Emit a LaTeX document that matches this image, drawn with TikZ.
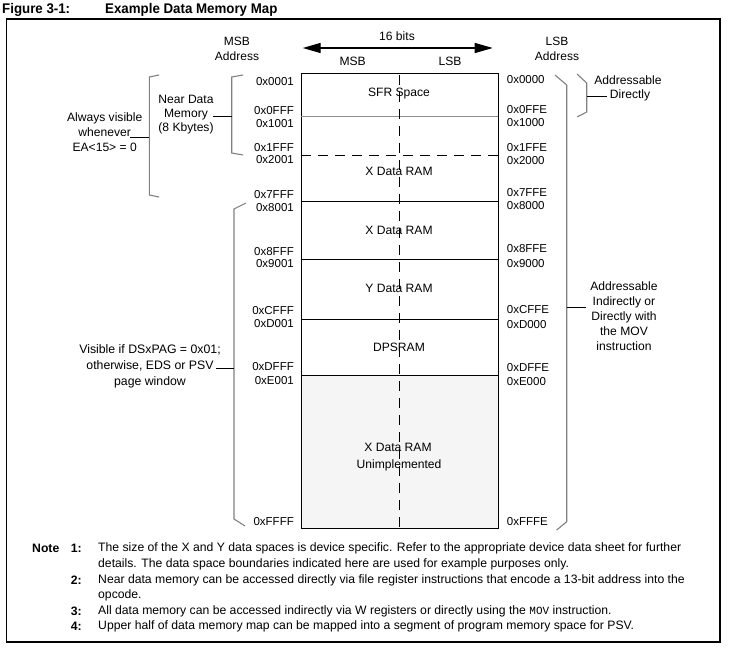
\documentclass[tikz,border=0pt]{standalone}
\usepackage{fontspec}
\setmainfont{Liberation Sans}
\setmonofont{Liberation Mono}
\usetikzlibrary{arrows.meta}
\newcommand{\lab}{\fontsize{11.5}{14}\selectfont}
\newcommand{\txt}{\fontsize{12.1}{14}\selectfont}
\begin{document}
\begin{tikzpicture}[x=1pt,y=-1pt,
  lbl/.style={inner sep=0pt, font=\lab},
  tlbl/.style={inner sep=0pt, font=\txt},
  laddr/.style={lbl, anchor=east},
  raddr/.style={lbl, anchor=west},
  brk/.style={draw=black!50, line width=1.1pt},
  conn/.style={draw=black, line width=0.9pt},
  memline/.style={draw=black, line width=1pt},
  multi/.style={inner sep=0pt, align=center},
  dashline/.style={draw=black, line width=1pt, dash pattern=on 10pt off 7pt},
  notetxt/.style={anchor=west, inner sep=0pt, font=\fontsize{12.2}{14}\selectfont},
  notenum/.style={anchor=east, inner sep=0pt, font=\fontsize{12.2}{14}\selectfont\bfseries}
]
\useasboundingbox (0,0) rectangle (729,650);
% title
\node[anchor=west, inner sep=0pt, font=\fontsize{14}{16}\selectfont\bfseries] (fig) at (2,9.5) {\scalebox{0.95}[1]{Figure 3-1:}};
\node[anchor=west, inner sep=0pt, font=\fontsize{14}{16}\selectfont\bfseries] (ttl) at (105,9.5) {\scalebox{0.95}[1]{Example Data Memory Map}};
% frame
\draw[line width=1.3pt] (6.5,19) rectangle (720,642);

% header
\node[multi, font=\fontsize{12}{15}\selectfont] (msba) at (237,48.5) {MSB\\Address};
\node[multi, font=\fontsize{12}{15}\selectfont] (lsba) at (557,48.5) {LSB\\Address};
\node[tlbl] (bits) at (397,35.7) {16 bits};
\node[tlbl] (msb) at (352.7,61.7) {MSB};
\node[tlbl] (lsb) at (450,61.7) {LSB};
\coordinate (arL) at (302.7,48);
\coordinate (arR) at (492.7,48);
\draw[line width=1.3pt, {Triangle[length=18pt,width=10pt]}-{Triangle[length=18pt,width=10pt]}] (arL) -- (arR);

% memory box
\fill[black!4] (301,375.5) rectangle (498,528);
\draw[memline] (301,74) rectangle (498,528);
\draw[draw=black!45, line width=1.1pt] (301,116.7) -- (498,116.7);
\draw[dashline] (301,156) -- (498,156);
\draw[memline] (301,201.7) -- (498,201.7);
\draw[memline] (301,259.7) -- (498,259.7);
\draw[memline] (301,319.3) -- (498,319.3);
\draw[memline] (301,375.5) -- (498,375.5);
\draw[dashline] (399.3,75) -- (399.3,528);

% region texts
\node[tlbl] (sfr) at (399,94) {SFR Space};
\node[tlbl] (x1) at (399,171.7) {X Data RAM};
\node[tlbl] (x2) at (399,230.5) {X Data RAM};
\node[tlbl] (y1) at (399,288.5) {Y Data RAM};
\node[tlbl] (dps) at (399,347.5) {DPSRAM};
\node[tlbl] (x3) at (398,447.7) {X Data RAM};
\node[tlbl] (unim) at (399,465) {Unimplemented};

% left addresses
\node[laddr] (l1) at (294,81.7) {0x0001};
\node[laddr] (l2) at (294,111) {0x0FFF};
\node[laddr] (l3) at (294,124) {0x1001};
\node[laddr] (l4) at (294,147.5) {0x1FFF};
\node[laddr] (l5) at (294,160) {0x2001};
\node[laddr] (l6) at (294,194.5) {0x7FFF};
\node[laddr] (l7) at (294,207.5) {0x8001};
\node[laddr] (l8) at (294,251.7) {0x8FFF};
\node[laddr] (l9) at (294,264) {0x9001};
\node[laddr] (l10) at (294,310.5) {0xCFFF};
\node[laddr] (l11) at (294,323.5) {0xD001};
\node[laddr] (l12) at (294,366.7) {0xDFFF};
\node[laddr] (l13) at (294,380.7) {0xE001};
\node[laddr] (l14) at (294,521.7) {0xFFFF};

% right addresses
\node[raddr] (r1) at (506.7,79.3) {0x0000};
\node[raddr] (r2) at (506.7,110) {0x0FFE};
\node[raddr] (r3) at (506.7,122.5) {0x1000};
\node[raddr] (r4) at (506.7,148) {0x1FFE};
\node[raddr] (r5) at (506.7,161) {0x2000};
\node[raddr] (r6) at (506.7,192.7) {0x7FFE};
\node[raddr] (r7) at (506.7,206) {0x8000};
\node[raddr] (r8) at (506.7,249) {0x8FFE};
\node[raddr] (r9) at (506.7,263.5) {0x9000};
\node[raddr] (r10) at (506.7,310) {0xCFFE};
\node[raddr] (r11) at (506.7,324.3) {0xD000};
\node[raddr] (r12) at (506.7,367.7) {0xDFFE};
\node[raddr] (r13) at (506.7,381.7) {0xE000};
\node[raddr] (r14) at (506.7,521.5) {0xFFFE};

% left outer bracket (always visible)
\draw[brk] (159,75) -- (149.3,77) -- (149.3,195) -- (159,197);
\coordinate (b1m) at (149.3,137);
\node[multi, font=\fontsize{12.1}{15}\selectfont] (alw) at (104.7,132) {Always visible\\whenever\\EA<15> = 0};
\coordinate (alwE) at (130,137);
\draw[conn] (alwE) -- (b1m);

% near data bracket
\draw[brk] (243,75) -- (231.7,77) -- (231.7,153) -- (243,155);
\coordinate (b2m) at (231.7,116);
\node[multi, font=\fontsize{12.1}{14}\selectfont] (near) at (186,115) {Near Data\\Memory\\(8 Kbytes)};
\coordinate (nearE) at (213,116);
\draw[conn] (nearE) -- (b2m);

% visible if bracket
\draw[brk] (246,203) -- (234,209) -- (234,519) -- (245,526);
\coordinate (b3m) at (234,368);
\node[multi, font=\fontsize{12.3}{16}\selectfont] (vis) at (150,366) {Visible if DSxPAG = 0x01;\\otherwise, EDS or PSV\\page window};
\coordinate (visE) at (216,368);
\draw[conn] (visE) -- (b3m);

% right big bracket
\draw[brk] (555,75) -- (566.7,85) -- (566.7,521.7) -- (556.7,530);
\coordinate (b4m) at (566.7,307);
\node[multi, font=\fontsize{12.1}{15}\selectfont] (ind) at (624,316) {Addressable\\Indirectly or\\Directly with\\the MOV\\instruction};
\coordinate (indW) at (586,307);
\draw[conn] (b4m) -- (indW);

% right small bracket
\draw[brk] (577,74) -- (586.7,83) -- (586.7,112) -- (577,117);
\coordinate (b5m) at (586.7,96);
\node[multi, font=\fontsize{12.1}{14}\selectfont] (dir) at (628,88) {Addressable\\\hspace*{4pt}Directly};
\coordinate (dirW) at (607,96);
\draw[conn] (b5m) -- (dirW);

% notes
\node[anchor=west, inner sep=0pt, font=\fontsize{12.2}{14}\selectfont\bfseries] (note) at (32,548) {Note};
\node[notenum] (n1) at (82,548) {1:};
\node[notetxt] (t1) at (98,548) {The size of the X and Y data spaces is device specific. Refer to the appropriate device data sheet for further};
\node[notetxt] (t1b) at (98,564) {details. The data space boundaries indicated here are used for example purposes only.};
\node[notenum] (n2) at (82,580) {2:};
\node[notetxt] (t2) at (98,580) {Near data memory can be accessed directly via file register instructions that encode a 13-bit address into the};
\node[notetxt] (t2b) at (98,595.5) {opcode.};
\node[notenum] (n3) at (82,611) {3:};
\node[notetxt] (t3) at (98,611) {All data memory can be accessed indirectly via W registers or directly using the {\ttfamily\fontsize{11}{12}\selectfont MOV} instruction.};
\node[notenum] (n4) at (82,626.5) {4:};
\node[notetxt] (t4) at (98,626.5) {Upper half of data memory map can be mapped into a segment of program memory space for PSV.};
\end{tikzpicture}
\end{document}
